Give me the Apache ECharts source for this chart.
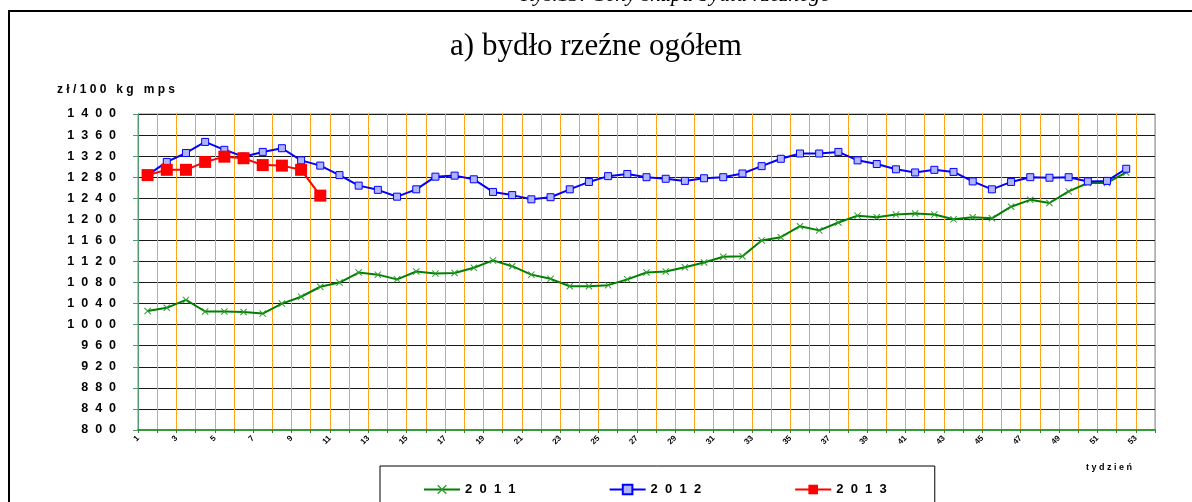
<!DOCTYPE html>
<html><head><meta charset="utf-8">
<script src="https://cdn.jsdelivr.net/npm/echarts@6/dist/echarts.min.js"></script>
<style>html,body{margin:0;padding:0;background:#fff}#c{width:1192px;height:502px}</style>
</head><body><div id="c"></div>
<script>
// category labels (weeks)
const weeks = ['1','2','3','4','5','6','7','8','9','10','11','12','13','14','15','16','17','18','19','20',
  '21','22','23','24','25','26','27','28','29','30','31','32','33','34','35','36','37','38','39','40',
  '41','42','43','44','45','46','47','48','49','50','51','52','53'];
// tick labels placed on band boundaries
const weekTickLabels = ['1','2','3','4','5','6','7','8','9','10','11','12','13','14','15','16','17','18','19','20',
  '21','22','23','24','25','26','27','28','29','30','31','32','33','34','35','36','37','38','39','40',
  '41','42','43','44','45','46','47','48','49','50','51','52','53',''];
const seriesNames = ['2011','2012','2013'];
const v2011 = [1026,1032,1047,1025,1025,1024,1021,1040,1053,1072,
  1080,1099,1095,1086,1101,1097,1098,1108,1122,1111,
  1095,1087,1073,1073,1075,1086,1099,1101,1109,1118,
  1129,1130,1160,1166,1187,1179,1194,1207,1204,1209,
  1211,1209,1200,1204,1202,1224,1237,1231,1253,1269,
  1269,1289];
const v2012 = [1284,1309,1326,1347,1332,1319,1328,1335,1312,1302,
  1284,1264,1256,1243,1257,1281,1283,1276,1252,1246,
  1238,1242,1257,1271,1282,1286,1280,1277,1273,1278,
  1280,1287,1301,1315,1325,1325,1328,1312,1305,1295,
  1289,1294,1290,1272,1257,1271,1280,1279,1280,1272,
  1273,1296];
const v2013 = [1284,1294,1294,1309,1319,1316,1303,1302,1294,1245];
const yMin = 800, yMax = 1400, yStep = 40;

const sans = "'Liberation Sans', Arial, sans-serif";
const serif = "'Liberation Serif', 'Times New Roman', serif";
const spaced = (s, gap) => String(s).split('').join(gap);
const crossPath = 'path://M0,1L1,0L5,4L9,0L10,1L6,5L10,9L9,10L5,6L1,10L0,9L4,5Z';

const chart = echarts.init(document.getElementById('c'), null, {renderer: 'canvas'});
chart.setOption({
  animation: false,
  backgroundColor: '#fff',
  title: {
    text: 'a) bydło rzeźne ogółem', left: 'center', top: 26,
    textStyle: {fontFamily: serif, fontSize: 31, fontWeight: 'normal', color: '#000'}
  },
  graphic: [
    {type: 'rect', shape: {x: 9, y: 11, width: 1200, height: 520}, style: {fill: 'none', stroke: '#000', lineWidth: 2}, silent: true},
    {type: 'text', x: 676, y: 6, style: {text: 'Rys.13. Ceny skupu bydła rzeźnego', font: 'italic 22px ' + serif, fill: '#000', textAlign: 'center', textVerticalAlign: 'bottom'}},
    {type: 'text', x: 57, y: 90, style: {text: 'z ł / 1 0 0   k g   m p s', font: 'bold 12px ' + sans, fill: '#000', textAlign: 'left', textVerticalAlign: 'middle'}},
    {type: 'text', x: 1132, y: 468, style: {text: spaced('tydzień', ' '), font: 'bold 9px ' + sans, fill: '#000', textAlign: 'right', textVerticalAlign: 'middle'}}
  ],
  legend: {
    left: 380, top: 466, orient: 'horizontal',
    itemWidth: 36, itemHeight: 12, itemGap: 93,
    padding: [17, 48, 40, 43],
    borderColor: '#000', borderWidth: 1,
    data: seriesNames,
    formatter: n => spaced(n, '  '),
    textStyle: {fontFamily: sans, fontSize: 13, fontWeight: 'bold', color: '#000'}
  },
  grid: {left: 138, right: 37, top: 114, bottom: 72, show: true, borderColor: '#888', borderWidth: 1, backgroundColor: 'transparent'},
  xAxis: [
    {
      type: 'category', data: weeks, boundaryGap: true, position: 'bottom',
      axisLine: {show: true, lineStyle: {color: '#3a9a3a', width: 2}},
      axisTick: {show: true, interval: 0, length: 3, lineStyle: {color: '#2f7f2f'}},
      axisLabel: {show: false},
      splitLine: {show: true, interval: 0, lineStyle: {color: '#ffa31a', width: 1}}
    },
    {
      type: 'category', data: weekTickLabels, boundaryGap: false, position: 'bottom',
      axisLine: {show: false}, axisTick: {show: false}, splitLine: {show: false},
      axisLabel: {show: true, interval: 1, rotate: 45, margin: 7, fontSize: 8, fontWeight: 'bold', fontFamily: sans, color: '#000'}
    }
  ],
  yAxis: {
    type: 'value', min: yMin, max: yMax, interval: yStep,
    axisLine: {show: true, lineStyle: {color: '#4f9a70', width: 1}},
    axisTick: {show: true, length: 5, lineStyle: {color: '#4f9a70'}},
    axisLabel: {margin: 22, fontSize: 12.5, fontWeight: 'bold', fontFamily: sans, color: '#000', formatter: v => spaced(v, '  ')},
    splitLine: {show: true, lineStyle: {color: '#1a1a1a', width: 1}}
  },
  series: [
    {name: '2011', type: 'line', xAxisIndex: 0, data: v2011, showAllSymbol: true,
     symbol: crossPath, symbolSize: 7, lineStyle: {color: '#008000', width: 2},
     itemStyle: {color: '#2e9a2e'}},
    {name: '2012', type: 'line', xAxisIndex: 0, data: v2012, showAllSymbol: true,
     symbol: 'rect', symbolSize: 7, lineStyle: {color: '#0000ff', width: 2},
     itemStyle: {color: '#b0b4ff', borderColor: '#0000ff', borderWidth: 1}},
    {name: '2013', type: 'line', xAxisIndex: 0, data: v2013, showAllSymbol: true,
     symbol: 'rect', symbolSize: 12, lineStyle: {color: '#ff0000', width: 2},
     itemStyle: {color: '#ff0000'}, z: 3}
  ]
});
</script></body></html>
